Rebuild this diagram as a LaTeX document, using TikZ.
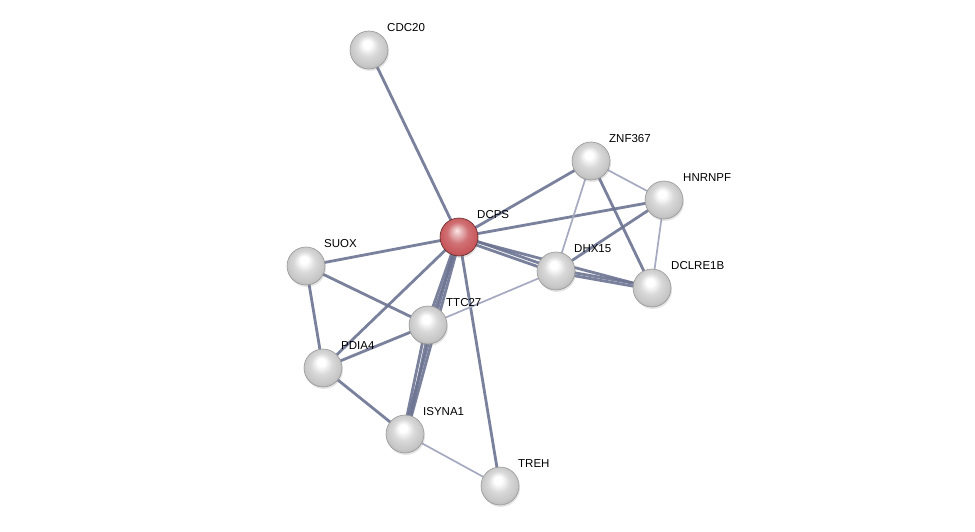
\documentclass[tikz,border=0pt]{standalone}
\usepackage{fontspec}
\setmainfont{Liberation Sans}
\usetikzlibrary{shadows}
\definecolor{edgec}{RGB}{108,116,146}
\definecolor{ledgec}{RGB}{165,170,192}
\definecolor{redc}{RGB}{200,88,92}
\pgfdeclareradialshading{wball}{\pgfpoint{-3bp}{9bp}}{%
  color(0bp)=(white); color(5bp)=(white); color(14bp)=(gray!30); color(24bp)=(gray!45); color(30bp)=(gray!70); color(34bp)=(gray!85)}
\pgfdeclareradialshading{rball}{\pgfpoint{-3bp}{9bp}}{%
  color(0bp)=(red!10!white); color(5bp)=(redc!40!white); color(14bp)=(redc!85!white); color(24bp)=(redc); color(30bp)=(redc!80!black); color(34bp)=(redc!55!black)}
\tikzset{
  prot/.style={circle, minimum size=38pt, inner sep=0pt, draw=gray!80, line width=0.6pt, shading=wball,
     drop shadow={shadow xshift=1pt, shadow yshift=-2pt, opacity=0.2}},
  qprot/.style={prot, shading=rball, draw=redc!50!black},
  lab/.style={font=\fontsize{11.5}{13}\selectfont, anchor=west, inner sep=1pt},
  edge/.style={draw=edgec, line width=2.8pt, opacity=0.9},
  ledge/.style={draw=ledgec, line width=1.7pt}
}
\begin{document}
\begin{tikzpicture}[x=1pt,y=-1pt]
\useasboundingbox (0,0) rectangle (975,532);
\fill[white] (0,0) rectangle (975,532);
% coordinates
\coordinate (cCDC) at (369,50);
\coordinate (cZNF) at (591,161);
\coordinate (cHNR) at (664,200);
\coordinate (cDCP) at (459,237);
\coordinate (cSUO) at (306,266);
\coordinate (cDHX) at (556,271);
\coordinate (cDCL) at (652,288);
\coordinate (cTTC) at (428,325);
\coordinate (cPDI) at (323,368);
\coordinate (cISY) at (405,434);
\coordinate (cTRE) at (500,486);
% edges
\draw[edge] (cCDC) -- (cDCP);
\draw[edge] (cDCP) -- (cZNF);
\draw[edge] (cDCP) -- (cHNR);
\draw[edge] (cDCP) -- (cSUO);
\draw[edge] ([yshift=-2pt]cDCP) -- ([yshift=-2pt]cDHX);
\draw[edge] ([yshift=2pt]cDCP) -- ([yshift=2pt]cDHX);
\draw[edge] (cDCP) -- (cDCL);
\draw[edge] ([xshift=-1.5pt]cDCP) -- ([xshift=-1.5pt]cTTC);
\draw[edge] ([xshift=1.5pt]cDCP) -- ([xshift=1.5pt]cTTC);
\draw[edge] (cDCP) -- (cPDI);
\draw[edge] ([xshift=-1.5pt]cDCP) -- ([xshift=-1.5pt]cISY);
\draw[edge] ([xshift=1.5pt]cDCP) -- ([xshift=1.5pt]cISY);
\draw[edge] (cDCP) -- (cTRE);
\draw[ledge] (cZNF) -- (cHNR);
\draw[ledge] (cZNF) -- (cDHX);
\draw[edge] (cZNF) -- (cDCL);
\draw[edge] (cHNR) -- (cDHX);
\draw[ledge] (cHNR) -- (cDCL);
\draw[edge] ([yshift=-1.5pt]cDHX) -- ([yshift=-1.5pt]cDCL);
\draw[edge] ([yshift=1.5pt]cDHX) -- ([yshift=1.5pt]cDCL);
\draw[ledge] (cDHX) -- (cTTC);
\draw[edge] (cSUO) -- (cTTC);
\draw[edge] (cSUO) -- (cPDI);
\draw[edge] (cTTC) -- (cPDI);
\draw[edge] ([xshift=-1.8pt]cTTC) -- ([xshift=-1.8pt]cISY);
\draw[edge] ([xshift=1.8pt]cTTC) -- ([xshift=1.8pt]cISY);
\draw[edge] (cPDI) -- (cISY);
\draw[ledge] (cISY) -- (cTRE);
% nodes
\node[prot] (CDC20) at (cCDC) {};
\node[prot] (ZNF367) at (cZNF) {};
\node[prot] (HNRNPF) at (cHNR) {};
\node[prot] (SUOX) at (cSUO) {};
\node[prot] (DHX15) at (cDHX) {};
\node[prot] (DCLRE1B) at (cDCL) {};
\node[prot] (TTC27) at (cTTC) {};
\node[prot] (PDIA4) at (cPDI) {};
\node[prot] (ISYNA1) at (cISY) {};
\node[prot] (TREH) at (cTRE) {};
\node[qprot] (DCPS) at (cDCP) {};
% labels
\node[lab] (lCDC) at (386,28) {CDC20};
\node[lab] (lZNF) at (608,139) {ZNF367};
\node[lab] (lHNR) at (682,178) {HNRNPF};
\node[lab] (lDCP) at (476,215) {DCPS};
\node[lab] (lSUO) at (323,244) {SUOX};
\node[lab] (lDHX) at (573,249) {DHX15};
\node[lab] (lDCL) at (670,266) {DCLRE1B};
\node[lab] (lTTC) at (445,303) {TTC27};
\node[lab] (lPDI) at (340,346) {PDIA4};
\node[lab] (lISY) at (422,412) {ISYNA1};
\node[lab] (lTRE) at (517,464) {TREH};
\end{tikzpicture}
\end{document}
